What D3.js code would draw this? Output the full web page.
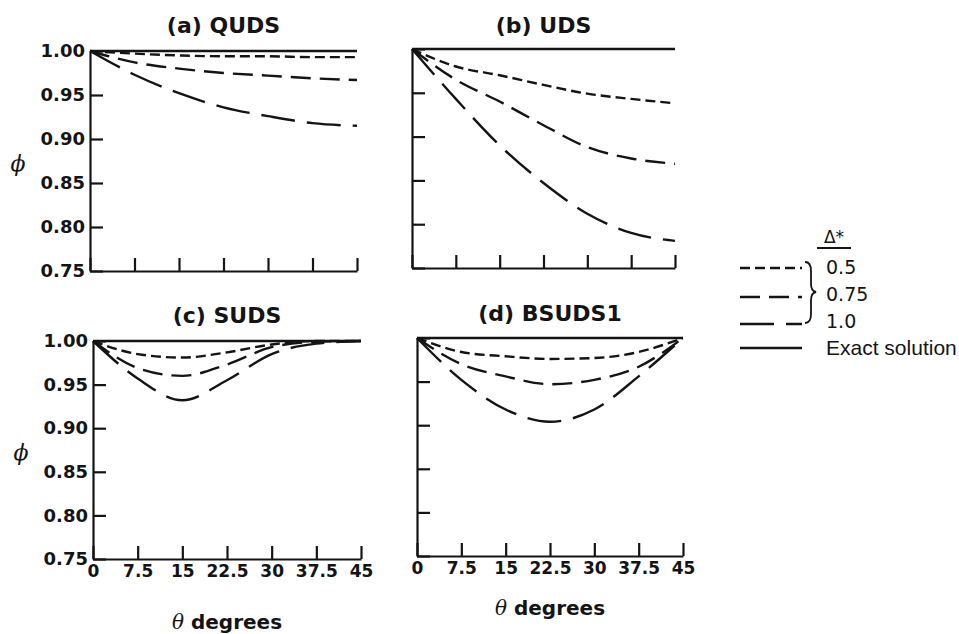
<!DOCTYPE html>
<html>
<head>
<meta charset="utf-8">
<script src="https://cdn.jsdelivr.net/npm/d3@7/dist/d3.min.js"></script>
<style>
  html, body { margin: 0; padding: 0; background: #fff; }
  svg { display: block; }
</style>
</head>
<body>
<svg id="chart" width="959" height="634"></svg>
<script>
// Angle samples (degrees) and axis ticks
const theta = [0, 7.5, 15, 22.5, 30, 37.5, 45];
const thetaTicks = [0, 7.5, 15, 22.5, 30, 37.5, 45];
const phiTicks = [0.75, 0.80, 0.85, 0.90, 0.95, 1.00];

// Exact solution: phi = 1 everywhere
const exact = [1, 1, 1, 1, 1, 1, 1];

// (a) QUDS
const qudsD05  = [1.000, 0.997, 0.995, 0.994, 0.994, 0.993, 0.993];
const qudsD075 = [1.000, 0.987, 0.980, 0.975, 0.972, 0.969, 0.967];
const qudsD10  = [1.000, 0.973, 0.952, 0.936, 0.926, 0.918, 0.915];

// (b) UDS
const udsD05  = [1.000, 0.980, 0.970, 0.959, 0.949, 0.943, 0.938];
const udsD075 = [1.000, 0.965, 0.940, 0.913, 0.888, 0.875, 0.869];
const udsD10  = [1.000, 0.943, 0.890, 0.847, 0.812, 0.790, 0.781];

// (c) SUDS
const sudsD05  = [1.000, 0.985, 0.981, 0.987, 0.996, 1.000, 1.000];
const sudsD075 = [1.000, 0.969, 0.960, 0.973, 0.993, 0.999, 1.000];
const sudsD10  = [1.000, 0.957, 0.932, 0.955, 0.985, 0.997, 1.000];

// (d) BSUDS1
const bsudsD05  = [1.000, 0.984, 0.979, 0.976, 0.977, 0.984, 1.000];
const bsudsD075 = [1.000, 0.970, 0.956, 0.947, 0.952, 0.967, 1.000];
const bsudsD10  = [1.000, 0.952, 0.918, 0.904, 0.918, 0.956, 1.000];

const deltaLabels = ["0.5", "0.75", "1.0"];
const dashes = ["10,5", "20,9", "34,12"];
const INK = "#141414";

const panels = [
  { title: "(a) QUDS",   series: [qudsD05, qudsD075, qudsD10],    box: [90, 357, 51, 271],  yLabels: true,  xLabels: false, titleY: 33 },
  { title: "(b) UDS",    series: [udsD05, udsD075, udsD10],       box: [412, 675, 49, 268], yLabels: false, xLabels: false, titleY: 33 },
  { title: "(c) SUDS",   series: [sudsD05, sudsD075, sudsD10],    box: [93, 361, 341, 559], yLabels: true,  xLabels: true,  titleY: 323 },
  { title: "(d) BSUDS1", series: [bsudsD05, bsudsD075, bsudsD10], box: [417, 683, 338, 556], yLabels: false, xLabels: true, titleY: 321 }
];

const svg = d3.select("#chart");
svg.append("rect").attr("width", 959).attr("height", 634).attr("fill", "#fff");

panels.forEach(p => {
  const [x0, x1, yTop, yBot] = p.box;
  const x = d3.scaleLinear().domain([0, 45]).range([x0, x1]);
  const y = d3.scaleLinear().domain([0.75, 1.0]).range([yBot, yTop]);
  const g = svg.append("g");

  // title
  g.append("text")
    .attr("x", (x0 + x1) / 2).attr("y", p.titleY)
    .attr("text-anchor", "middle")
    .attr("font-family", "DejaVu Sans").attr("font-weight", "bold")
    .attr("font-size", 22).attr("fill", INK)
    .text(p.title);

  // y axis (ticks point inward)
  const yAxis = d3.axisLeft(y).tickValues(phiTicks).tickSize(-13).tickSizeOuter(0).tickPadding(5)
    .tickFormat(p.yLabels ? d3.format(".2f") : () => "");
  const ya = g.append("g").attr("transform", `translate(${x0},0)`).call(yAxis);

  // x axis (ticks point inward)
  const xAxis = d3.axisBottom(x).tickValues(thetaTicks).tickSize(-13).tickSizeOuter(0).tickPadding(6)
    .tickFormat(p.xLabels ? (d => String(d)) : () => "");
  const xa = g.append("g").attr("transform", `translate(0,${yBot})`).call(xAxis);

  [ya, xa].forEach(a => {
    a.select(".domain").attr("stroke", INK).attr("stroke-width", 2.2);
    a.selectAll(".tick line").attr("stroke", INK).attr("stroke-width", 2.2);
    a.selectAll(".tick text")
      .attr("font-family", "DejaVu Sans").attr("font-weight", "bold")
      .attr("fill", INK);
  });
  ya.selectAll(".tick text").attr("font-size", 18);
  xa.selectAll(".tick text").attr("font-size", 17);

  const line = d3.line()
    .x((d, i) => x(theta[i]))
    .y(d => y(d))
    .curve(d3.curveMonotoneX);

  // exact solution
  g.append("path").datum(exact).attr("d", line)
    .attr("fill", "none").attr("stroke", INK).attr("stroke-width", 2.4);

  // dashed Δ* curves
  p.series.forEach((s, k) => {
    g.append("path").datum(s).attr("d", line)
      .attr("fill", "none").attr("stroke", INK).attr("stroke-width", 2.4)
      .attr("stroke-dasharray", dashes[k]);
  });

  // phi axis label on left column
  if (p.yLabels) {
    g.append("text")
      .attr("x", x0 - 72).attr("y", (yTop + yBot) / 2 + 2)
      .attr("text-anchor", "middle").attr("dominant-baseline", "central")
      .attr("font-family", "DejaVu Serif").attr("font-style", "italic")
      .attr("font-size", 22).attr("fill", INK)
      .text("ϕ");
  }
  // theta axis label on bottom row
  if (p.xLabels) {
    const t = g.append("text")
      .attr("x", (x0 + x1) / 2).attr("y", yBot + (p.title === "(c) SUDS" ? 70 : 59))
      .attr("text-anchor", "middle")
      .attr("font-size", 20).attr("fill", INK);
    t.append("tspan").attr("font-family", "DejaVu Serif").attr("font-style", "italic").text("θ");
    t.append("tspan").attr("font-family", "DejaVu Sans").attr("font-weight", "bold").text(" degrees");
  }
});

// legend
const leg = svg.append("g");
leg.append("text").attr("x", 834).attr("y", 243)
  .attr("text-anchor", "middle")
  .attr("font-family", "DejaVu Sans").attr("font-size", 17).attr("fill", INK)
  .text("Δ*");
leg.append("line").attr("x1", 817).attr("x2", 851).attr("y1", 248).attr("y2", 248)
  .attr("stroke", INK).attr("stroke-width", 1.8);

const legRows = [268, 297, 324];
deltaLabels.forEach((lab, k) => {
  leg.append("line").attr("x1", 740).attr("x2", 802)
    .attr("y1", legRows[k]).attr("y2", legRows[k])
    .attr("stroke", INK).attr("stroke-width", 2.4).attr("stroke-dasharray", dashes[k]);
});
[[267, "0.5"], [294, "0.75"], [321, "1.0"]].forEach(([yy, t]) => {
  leg.append("text").attr("x", 826).attr("y", yy).attr("dominant-baseline", "central")
    .attr("font-family", "DejaVu Sans").attr("font-size", 19).attr("fill", INK).text(t);
});
leg.append("line").attr("x1", 740).attr("x2", 802).attr("y1", 348).attr("y2", 348)
  .attr("stroke", INK).attr("stroke-width", 2.4);
leg.append("text").attr("x", 826).attr("y", 347).attr("dominant-baseline", "central")
  .attr("font-family", "Liberation Sans").attr("font-size", 21).attr("fill", INK)
  .text("Exact solution");

// brace grouping the Δ* values
leg.append("path")
  .attr("d", "M805,262 Q811,262 811,271 L811,284 Q811,291 816,292 Q811,293 811,300 L811,314 Q811,323 805,323")
  .attr("fill", "none").attr("stroke", INK).attr("stroke-width", 1.8);
</script>
</body>
</html>
